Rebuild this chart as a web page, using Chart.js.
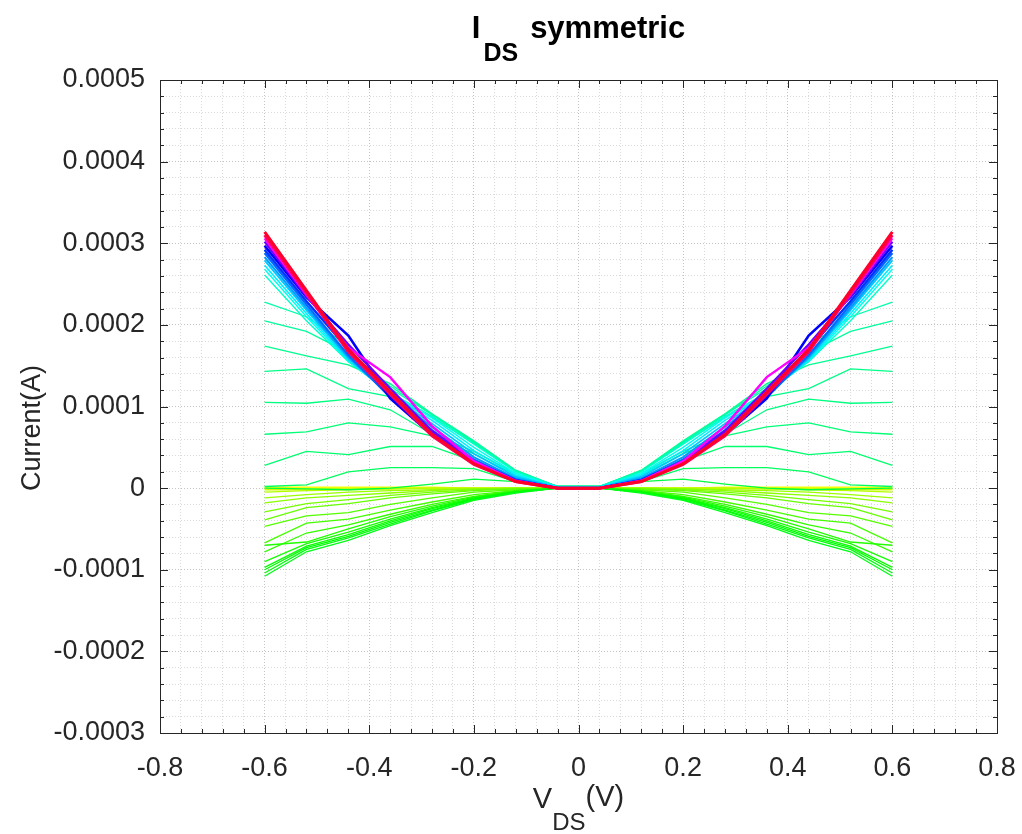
<!DOCTYPE html>
<html>
<head>
<meta charset="utf-8">
<title>IDS symmetric</title>
<script src="https://cdn.jsdelivr.net/npm/chart.js@4.4.1/dist/chart.umd.min.js"></script>
<style>
  html, body { margin: 0; padding: 0; background: #fff; }
  canvas { display: block; }
</style>
</head>
<body>
<canvas id="chart" width="1022" height="834"></canvas>
<script>
// drain-source voltage points (V)
var vds = [-0.6, -0.52, -0.44, -0.36, -0.28, -0.2, -0.12, -0.04, 0.04, 0.12, 0.2, 0.28, 0.36, 0.44, 0.52, 0.6];

// currents, in units of 1e-4 A
var idsRed1    = [3.14, 2.42, 1.70, 1.18, 0.66, 0.30, 0.08, 0.00, 0.00, 0.08, 0.30, 0.66, 1.18, 1.70, 2.42, 3.14];
var idsRed2    = [3.10, 2.39, 1.67, 1.15, 0.64, 0.29, 0.08, 0.00, 0.00, 0.08, 0.29, 0.64, 1.15, 1.67, 2.39, 3.10];
var idsMagenta = [3.06, 2.37, 1.72, 1.36, 0.76, 0.33, 0.09, 0.00, 0.00, 0.09, 0.33, 0.76, 1.36, 1.72, 2.37, 3.06];
var idsPurple  = [3.02, 2.35, 1.76, 1.22, 0.70, 0.32, 0.09, 0.00, 0.00, 0.09, 0.32, 0.70, 1.22, 1.76, 2.35, 3.02];
var idsBlue1   = [2.97, 2.34, 1.87, 1.10, 0.65, 0.31, 0.09, 0.00, 0.00, 0.09, 0.31, 0.65, 1.10, 1.87, 2.34, 2.97];
var idsBlue2   = [2.92, 2.29, 1.70, 1.12, 0.68, 0.33, 0.10, 0.00, 0.00, 0.10, 0.33, 0.68, 1.12, 1.70, 2.29, 2.92];
var idsBlue3   = [2.88, 2.25, 1.63, 1.11, 0.71, 0.35, 0.10, 0.00, 0.00, 0.10, 0.35, 0.71, 1.11, 1.63, 2.25, 2.88];
var idsCyan1   = [2.83, 2.21, 1.61, 1.13, 0.75, 0.38, 0.12, 0.00, 0.00, 0.12, 0.38, 0.75, 1.13, 1.61, 2.21, 2.83];
var idsCyan2   = [2.79, 2.18, 1.59, 1.14, 0.79, 0.42, 0.14, 0.01, 0.01, 0.14, 0.42, 0.79, 1.14, 1.59, 2.18, 2.79];
var idsCyan3   = [2.73, 2.14, 1.57, 1.15, 0.83, 0.46, 0.16, 0.01, 0.01, 0.16, 0.46, 0.83, 1.15, 1.57, 2.14, 2.73];
var idsCyan4   = [2.68, 2.10, 1.56, 1.16, 0.86, 0.50, 0.18, 0.01, 0.01, 0.18, 0.50, 0.86, 1.16, 1.56, 2.10, 2.68];
var idsCyan5   = [2.61, 2.05, 1.55, 1.17, 0.88, 0.54, 0.20, 0.02, 0.02, 0.20, 0.54, 0.88, 1.17, 1.55, 2.05, 2.61];
var idsGreen1  = [2.28, 2.10, 1.74, 1.22, 0.90, 0.56, 0.21, 0.02, 0.02, 0.21, 0.56, 0.90, 1.22, 1.74, 2.10, 2.28];
var idsGreen2  = [2.05, 1.92, 1.66, 1.25, 0.90, 0.57, 0.21, 0.02, 0.02, 0.21, 0.57, 0.90, 1.25, 1.66, 1.92, 2.05];
var idsGreen3  = [1.74, 1.62, 1.51, 1.28, 0.91, 0.58, 0.22, 0.02, 0.02, 0.22, 0.58, 0.91, 1.28, 1.51, 1.62, 1.74];
var idsGreen4  = [1.43, 1.46, 1.22, 1.12, 0.87, 0.55, 0.21, 0.02, 0.02, 0.21, 0.55, 0.87, 1.12, 1.22, 1.46, 1.43];
var idsGreen5  = [1.05, 1.04, 1.09, 0.96, 0.66, 0.45, 0.18, 0.02, 0.02, 0.18, 0.45, 0.66, 0.96, 1.09, 1.04, 1.05];
var idsGreen6  = [0.66, 0.69, 0.80, 0.75, 0.64, 0.42, 0.16, 0.02, 0.02, 0.16, 0.42, 0.64, 0.75, 0.80, 0.69, 0.66];
var idsGreen7  = [0.28, 0.45, 0.41, 0.51, 0.51, 0.33, 0.12, 0.01, 0.01, 0.12, 0.33, 0.51, 0.51, 0.41, 0.45, 0.28];
var idsGreen8  = [0.02, 0.04, 0.20, 0.25, 0.25, 0.24, 0.08, 0.00, 0.00, 0.08, 0.24, 0.25, 0.25, 0.20, 0.04, 0.02];
var idsGreen9  = [0.00, -0.01, -0.02, 0.00, 0.05, 0.11, 0.08, 0.00, 0.00, 0.08, 0.11, 0.05, 0.00, -0.02, -0.01, 0.00];
var idsYellow1 = [0.01, 0.01, 0.01, 0.01, 0.01, 0.00, 0.00, 0.00, 0.00, 0.00, 0.00, 0.01, 0.01, 0.01, 0.01, 0.01];
var idsYellow2 = [-0.01, -0.01, 0.00, 0.00, 0.00, 0.00, 0.00, 0.00, 0.00, 0.00, 0.00, 0.00, 0.00, 0.00, -0.01, -0.01];
var idsYellow3 = [-0.02, -0.02, -0.01, -0.01, 0.00, 0.00, 0.00, 0.00, 0.00, 0.00, 0.00, 0.00, -0.01, -0.01, -0.02, -0.02];
var idsNeg1    = [-0.05, -0.03, -0.02, -0.01, 0.00, 0.00, 0.00, 0.00, 0.00, 0.00, 0.00, 0.00, -0.01, -0.02, -0.03, -0.05];
var idsNeg2    = [-0.12, -0.08, -0.05, -0.03, -0.02, -0.01, 0.00, 0.00, 0.00, 0.00, -0.01, -0.02, -0.03, -0.05, -0.08, -0.12];
var idsNeg3    = [-0.18, -0.12, -0.09, -0.06, -0.03, -0.01, 0.00, 0.00, 0.00, 0.00, -0.01, -0.03, -0.06, -0.09, -0.12, -0.18];
var idsNeg4    = [-0.29, -0.19, -0.14, -0.09, -0.05, -0.02, -0.01, 0.00, 0.00, -0.01, -0.02, -0.05, -0.09, -0.14, -0.19, -0.29];
var idsNeg5    = [-0.39, -0.24, -0.19, -0.12, -0.07, -0.03, -0.01, 0.00, 0.00, -0.01, -0.03, -0.07, -0.12, -0.19, -0.24, -0.39];
var idsNeg6    = [-0.47, -0.34, -0.30, -0.20, -0.12, -0.05, -0.02, 0.00, 0.00, -0.02, -0.05, -0.12, -0.20, -0.30, -0.34, -0.47];
var idsNeg7    = [-0.67, -0.43, -0.38, -0.27, -0.17, -0.08, -0.03, 0.00, 0.00, -0.03, -0.08, -0.17, -0.27, -0.38, -0.43, -0.67];
var idsNeg8    = [-0.78, -0.55, -0.45, -0.32, -0.20, -0.10, -0.03, 0.00, 0.00, -0.03, -0.10, -0.20, -0.32, -0.45, -0.55, -0.78];
var idsNeg9    = [-0.70, -0.66, -0.50, -0.35, -0.22, -0.11, -0.04, 0.00, 0.00, -0.04, -0.11, -0.22, -0.35, -0.50, -0.66, -0.70];
var idsNeg10   = [-0.90, -0.68, -0.54, -0.38, -0.24, -0.12, -0.04, 0.00, 0.00, -0.04, -0.12, -0.24, -0.38, -0.54, -0.68, -0.90];
var idsNeg11   = [-0.97, -0.71, -0.57, -0.40, -0.25, -0.13, -0.05, 0.00, 0.00, -0.05, -0.13, -0.25, -0.40, -0.57, -0.71, -0.97];
var idsNeg12   = [-1.00, -0.73, -0.59, -0.42, -0.27, -0.13, -0.05, 0.00, 0.00, -0.05, -0.13, -0.27, -0.42, -0.59, -0.73, -1.00];
var idsNeg13   = [-1.04, -0.75, -0.61, -0.44, -0.28, -0.14, -0.05, 0.00, 0.00, -0.05, -0.14, -0.28, -0.44, -0.61, -0.75, -1.04];
var idsNeg14   = [-1.08, -0.78, -0.64, -0.46, -0.30, -0.15, -0.06, 0.00, 0.00, -0.06, -0.15, -0.30, -0.46, -0.64, -0.78, -1.08];

// drawing order: first entry ends up on top; [values, hue, width]
var curves = [
  [idsRed1, 350, 3], [idsRed2, 338, 3], [idsMagenta, 300, 2.4], [idsPurple, 265, 2.4],
  [idsBlue1, 240, 2.6], [idsBlue2, 228, 2.4], [idsBlue3, 215, 2.2], [idsCyan1, 203, 2],
  [idsCyan2, 193, 1.8], [idsCyan3, 184, 1.6], [idsCyan4, 176, 1.5], [idsCyan5, 168, 1.4],
  [idsGreen1, 160, 1.3], [idsGreen2, 157, 1.3], [idsGreen3, 154, 1.3], [idsGreen4, 152, 1.3],
  [idsGreen5, 150, 1.3], [idsGreen6, 148, 1.3], [idsGreen7, 146, 1.3], [idsGreen8, 142, 1.3],
  [idsGreen9, 135, 1.3],
  [idsNeg14, 125, 1.3], [idsNeg13, 122, 1.3], [idsNeg12, 120, 1.3], [idsNeg11, 118, 1.3],
  [idsNeg10, 115, 1.3], [idsNeg9, 112, 1.3], [idsNeg8, 108, 1.3], [idsNeg7, 104, 1.3],
  [idsNeg6, 100, 1.3], [idsNeg5, 96, 1.3], [idsNeg4, 92, 1.3], [idsNeg3, 87, 1.3],
  [idsNeg2, 83, 1.3], [idsNeg1, 78, 1.3],
  [idsYellow3, 72, 1.5], [idsYellow2, 67, 1.5], [idsYellow1, 62, 1.5]
];

var FONT = '"Liberation Sans", Arial, Helvetica, sans-serif';
var TEXT = '#262626';

var datasets = curves.map(function (c) {
  return {
    data: vds.map(function (v, i) { return { x: v, y: c[0][i] }; }),
    borderColor: 'hsl(' + c[1] + ',100%,50%)',
    borderWidth: c[2],
    pointRadius: 0,
    fill: false,
    tension: 0
  };
});

function stepTicks(min, max, step) {
  var out = [];
  var n = Math.round((max - min) / step);
  for (var i = 0; i <= n; i++) out.push({ value: +(min + i * step).toFixed(6) });
  return out;
}
function isMajor(v, every) {
  var r = v / every;
  return Math.abs(r - Math.round(r)) < 1e-6;
}

// titles with subscripts plus the octave-style box and inward ticks
var decorations = {
  id: 'decorations',
  afterDraw: function (chart) {
    var ctx = chart.ctx;
    var a = chart.chartArea;
    var xs = chart.scales.x, ys = chart.scales.y;
    ctx.save();

    // box
    ctx.strokeStyle = TEXT;
    ctx.lineWidth = 1;
    ctx.strokeRect(Math.round(a.left) + 0.5, Math.round(a.top) + 0.5,
      Math.round(a.right - a.left), Math.round(a.bottom - a.top));

    // ticks
    ctx.beginPath();
    xs.ticks.forEach(function (t) {
      var px = Math.round(xs.getPixelForValue(t.value)) + 0.5;
      var len = isMajor(t.value, 0.2) ? 8 : 4;
      ctx.moveTo(px, a.bottom); ctx.lineTo(px, a.bottom - len);
      ctx.moveTo(px, a.top); ctx.lineTo(px, a.top + len);
    });
    ys.ticks.forEach(function (t) {
      var py = Math.round(ys.getPixelForValue(t.value)) + 0.5;
      var len = isMajor(t.value, 1) ? 8 : 4;
      ctx.moveTo(a.left, py); ctx.lineTo(a.left + len, py);
      ctx.moveTo(a.right, py); ctx.lineTo(a.right - len, py);
    });
    ctx.stroke();

    ctx.fillStyle = '#000';
    ctx.textBaseline = 'alphabetic';
    ctx.textAlign = 'left';

    // title: I_DS symmetric
    var fMain = 'bold 31px ' + FONT, fSub = 'bold 25px ' + FONT;
    ctx.font = fMain;
    var wI = ctx.measureText('I').width;
    var wSym = ctx.measureText('symmetric').width;
    ctx.font = fSub;
    var wDS = ctx.measureText('DS').width;
    var total = wI + 3 + wDS + 12 + wSym;
    var x0 = (a.left + a.right) / 2 - total / 2;
    ctx.font = fMain;
    ctx.fillText('I', x0, 38);
    ctx.font = fSub;
    ctx.fillText('DS', x0 + wI + 3, 61);
    ctx.font = fMain;
    ctx.fillText('symmetric', x0 + wI + 3 + wDS + 12, 38);

    // x label: V_DS(V)
    ctx.fillStyle = TEXT;
    var lMain = '29px ' + FONT, lSub = '24px ' + FONT;
    ctx.font = lMain;
    var wV = ctx.measureText('V').width;
    var wPar = ctx.measureText('(V)').width;
    ctx.font = lSub;
    var wDS2 = ctx.measureText('DS').width;
    var tot2 = wV + wDS2 + wPar;
    var x1 = (a.left + a.right) / 2 - tot2 / 2;
    ctx.font = lMain;
    ctx.fillText('V', x1, 808);
    ctx.font = lSub;
    ctx.fillText('DS', x1 + wV, 830);
    ctx.font = lMain;
    ctx.fillText('(V)', x1 + wV + wDS2, 806);

    // y label
    ctx.translate(40, 428);
    ctx.rotate(-Math.PI / 2);
    ctx.textAlign = 'center';
    ctx.font = '27px ' + FONT;
    ctx.fillText('Current(A)', 0, 0);

    ctx.restore();
  }
};

new Chart(document.getElementById('chart'), {
  type: 'line',
  data: { datasets: datasets },
  options: {
    responsive: false,
    animation: false,
    events: [],
    layout: { padding: { top: 80, right: 25, bottom: 0, left: 0 } },
    plugins: { legend: { display: false }, tooltip: { enabled: false }, title: { display: false } },
    scales: {
      x: {
        type: 'linear',
        min: -0.8,
        max: 0.8,
        afterBuildTicks: function (s) { s.ticks = stepTicks(-0.8, 0.8, 0.04); },
        afterFit: function (s) { s.height = 101; s.paddingLeft = 0; s.paddingRight = 0; },
        grid: {
          drawTicks: false,
          lineWidth: 1,
          color: function (c) { return isMajor(c.tick.value, 0.2) ? '#c4c4c4' : '#dadada'; }
        },
        border: { display: false, dash: [1, 2] },
        ticks: {
          autoSkip: false,
          maxRotation: 0,
          padding: 19,
          color: TEXT,
          font: { family: FONT, size: 27 },
          callback: function (v) {
            if (!isMajor(v, 0.2)) return '';
            var r = Math.round(v * 10) / 10;
            return r === 0 ? '0' : String(r);
          }
        }
      },
      y: {
        type: 'linear',
        min: -3,
        max: 5,
        afterBuildTicks: function (s) { s.ticks = stepTicks(-3, 5, 0.2); },
        afterFit: function (s) { s.width = 160; s.paddingTop = 0; s.paddingBottom = 0; },
        grid: {
          drawTicks: false,
          lineWidth: 1,
          color: function (c) { return isMajor(c.tick.value, 1) ? '#c4c4c4' : '#dadada'; }
        },
        border: { display: false, dash: [1, 2] },
        ticks: {
          autoSkip: false,
          padding: 15,
          color: TEXT,
          font: { family: FONT, size: 27 },
          callback: function (v) {
            if (!isMajor(v, 1)) return '';
            var n = Math.round(v);
            if (n === 0) return '0';
            return (n < 0 ? '-' : '') + '0.000' + Math.abs(n);
          }
        }
      }
    }
  },
  plugins: [decorations]
});
</script>
</body>
</html>
